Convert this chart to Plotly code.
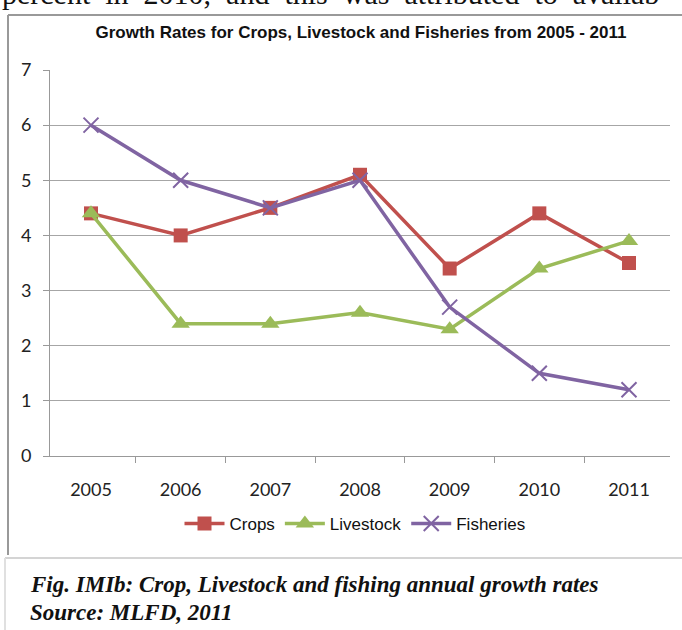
import plotly.graph_objects as go

# data
years = ["2005", "2006", "2007", "2008", "2009", "2010", "2011"]
crops = [4.4, 4.0, 4.5, 5.1, 3.4, 4.4, 3.5]
livestock = [4.4, 2.4, 2.4, 2.6, 2.3, 3.4, 3.9]
fisheries = [6.0, 5.0, 4.5, 5.0, 2.7, 1.5, 1.2]

W, H = 682, 630
L, R, T, B = 50, 12, 70, 174

def px_x(p):
    return (p - L) / (W - L - R)

def px_y(p):
    return 1 - (p - T) / (H - T - B)

fig = go.Figure()
fig.add_trace(go.Scatter(
    x=years, y=crops, name="Crops", mode="lines+markers",
    line=dict(color="#C0504D", width=3.5),
    marker=dict(symbol="square", size=14, color="#C0504D"),
))
fig.add_trace(go.Scatter(
    x=years, y=livestock, name="Livestock", mode="lines+markers",
    line=dict(color="#9BBB59", width=3.5),
    marker=dict(symbol="triangle-up", size=16, color="#9BBB59"),
))
fig.add_trace(go.Scatter(
    x=years, y=fisheries, name="Fisheries", mode="lines+markers",
    line=dict(color="#8064A2", width=3.5),
    marker=dict(symbol="x-thin", size=15, line=dict(color="#8064A2", width=2)),
))

tick_font = dict(family="Lato, Open Sans, sans-serif", size=18, color="#222")
narrow = "Liberation Sans Narrow, Arial Narrow, Liberation Sans, sans-serif"

fig.update_layout(
    width=W, height=H,
    margin=dict(l=L, r=R, t=T, b=B, autoexpand=False),
    paper_bgcolor="white", plot_bgcolor="white",
    showlegend=True,
    legend=dict(orientation="h", x=px_x(355), xanchor="center",
                y=px_y(524), yanchor="middle",
                font=dict(family=narrow, size=17, color="#111"),
                itemwidth=40, tracegroupgap=0),
    xaxis=dict(type="category", showgrid=False, showline=True, linecolor="#999",
               linewidth=1, ticks="outside", ticklen=6, tickcolor="#999",
               tickson="boundaries", tickfont=tick_font, ticklabelstandoff=17),
    yaxis=dict(range=[0, 7], dtick=1, showgrid=True, gridcolor="#a6a6a6", gridwidth=1,
               showline=True, linecolor="#999", ticks="outside", ticklen=6,
               tickcolor="#999", tickfont=tick_font, zeroline=False,
               ticklabelstandoff=8),
    title=dict(text="<b>Growth Rates for Crops, Livestock and Fisheries from 2005 - 2011</b>",
               x=361 / W, xanchor="center", xref="container",
               y=1 - 32 / H, yanchor="middle",
               font=dict(family=narrow, size=17, color="#111")),
)

# chart frame and caption box
fig.add_shape(type="line", xref="paper", yref="paper",
              x0=px_x(8), x1=px_x(8), y0=px_y(15), y1=px_y(555),
              line=dict(color="#999", width=2))
fig.add_shape(type="line", xref="paper", yref="paper",
              x0=px_x(8), x1=px_x(690), y0=px_y(15), y1=px_y(15),
              line=dict(color="#999", width=2))
fig.add_shape(type="line", xref="paper", yref="paper",
              x0=px_x(5), x1=px_x(690), y0=px_y(558), y1=px_y(558),
              line=dict(color="#d4d4d4", width=2))
fig.add_shape(type="line", xref="paper", yref="paper",
              x0=px_x(5), x1=px_x(5), y0=px_y(558), y1=px_y(640),
              line=dict(color="#e0e0e0", width=2))

# running document text cut off at the top (as in the scanned page)
fig.add_annotation(text="percent  in  2010,  and  this  was  attributed  to  availab",
                   xref="paper", yref="paper", x=px_x(0), y=px_y(-6),
                   xanchor="left", yanchor="middle", showarrow=False,
                   font=dict(family="Liberation Serif, Times New Roman, serif", size=30, color="#111"))

caption_font = dict(family="Liberation Serif, Times New Roman, serif", size=23, color="#111")
fig.add_annotation(text="<b><i>Fig. IMIb: Crop, Livestock and fishing annual growth rates</i></b>",
                   xref="paper", yref="paper", x=px_x(28), y=px_y(584),
                   xanchor="left", yanchor="middle", showarrow=False, font=caption_font)
fig.add_annotation(text="<b><i>Source: MLFD, 2011</i></b>",
                   xref="paper", yref="paper", x=px_x(28), y=px_y(612),
                   xanchor="left", yanchor="middle", showarrow=False, font=caption_font)

# the page body has an 8px default margin; drop it so the figure fills the window
fig.write_html("out.html", config={"displayModeBar": False},
               post_script="document.body.style.margin='0';")
